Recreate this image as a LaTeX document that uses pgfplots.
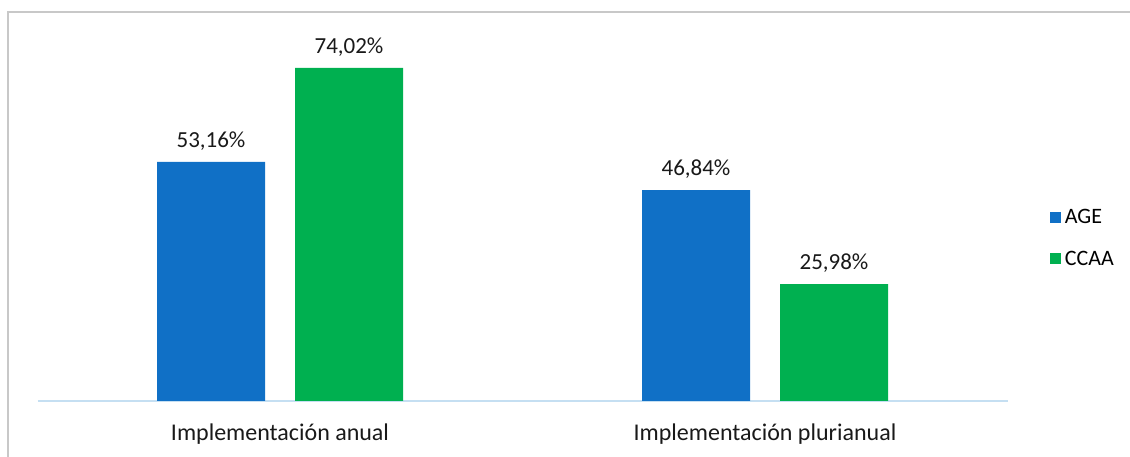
\documentclass[border=0pt]{standalone}
\usepackage{pgfplots}
\pgfplotsset{compat=1.18}
\usepackage{fontspec}
\setmainfont{Carlito}
\definecolor{cblue}{RGB}{16,112,198}
\definecolor{cgreen}{RGB}{0,176,80}
\definecolor{caxis}{RGB}{197,223,242}
\definecolor{cframe}{RGB}{200,200,200}
\begin{document}
\begin{tikzpicture}
\useasboundingbox (0,0) rectangle (1130bp,457bp);
\draw[cframe, line width=2bp] (8bp,0) -- (8bp,444.5bp) -- (1130bp,444.5bp);
\begin{axis}[
  at={(37.5bp,56bp)}, anchor=south west,
  scale only axis, width=970bp, height=360bp,
  xmin=-0.5, xmax=1.5, ymin=0, ymax=80,
  axis x line=bottom, axis y line=none,
  x axis line style={caxis, line width=2bp, -},
  xtick=data, xticklabels={Implementación anual, Implementación plurianual},
  major tick length=0pt,
  /pgf/number format/assume math mode=true,
  xticklabel style={font=\fontsize{24bp}{26bp}\selectfont, text=black!90, yshift=-19bp},
  ybar, bar width=108bp,
  nodes near coords={\pgfmathprintnumber[fixed, fixed zerofill, precision=2, use comma]{\pgfplotspointmeta}\%},
  nodes near coords style={font=\fontsize{23bp}{25bp}\selectfont, text=black!90, yshift=8bp},
  legend style={at={(1.0435,0.453)}, anchor=west, draw=none, fill=none,
    font=\fontsize{22bp}{24bp}\selectfont, row sep=24bp, inner sep=0pt,
    nodes={inner ysep=1bp, inner xsep=4bp}},
  legend cell align=left,
  legend image code/.code={\fill[#1] (0bp,-5.5bp) rectangle (11bp,5.5bp);},
  clip=false,
]
\addplot[fill=cblue, draw=none, bar shift=-69bp] coordinates {(0,53.16) (1,46.84)};
\addplot[fill=cgreen, draw=none, bar shift=69bp] coordinates {(0,74.02) (1,25.98)};
\legend{AGE, CCAA}
\end{axis}
\end{tikzpicture}
\end{document}
